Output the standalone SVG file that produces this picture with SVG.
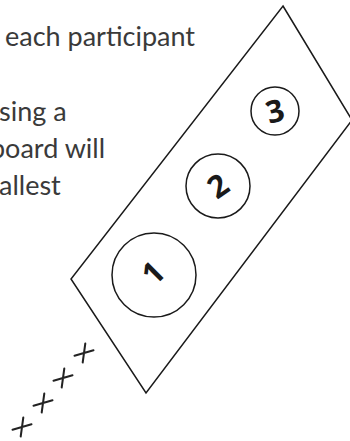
<svg xmlns="http://www.w3.org/2000/svg" width="350" height="441" viewBox="0 0 350 441">
<style>
.txt{font-family:Lato,"Open Sans","Liberation Sans",sans-serif;font-size:27px;fill:#3a3a3a}
.shape{fill:none;stroke:#1a1a1a;stroke-width:1.5}
.dig{font-family:"Open Sans","Liberation Sans",sans-serif;font-weight:700;font-size:31px;fill:#1a1a1a;text-anchor:middle}
.cross{fill:none;stroke:#222;stroke-width:2;stroke-linecap:round}
</style>
<rect width="350" height="441" fill="#fff"/>
<g id="text">
<text class="txt" x="5" y="46">each participant</text>
<text class="txt" x="-1" y="121">sing a</text>
<text class="txt" x="-10" y="158">board will</text>
<text class="txt" x="-1" y="195">allest</text>
</g>
<g id="board"><polygon class="shape" points="283,6 352,120 146,393 71,279"/></g>
<g id="n3"><circle class="shape" cx="275" cy="111" r="24"/><text class="dig" transform="translate(275,111) rotate(-15)" y="11">3</text></g>
<g id="n2"><circle class="shape" cx="218" cy="186" r="32"/><text class="dig" transform="translate(218,186) rotate(-35)" y="11">2</text></g>
<g id="n1"><circle class="shape" cx="154" cy="275" r="42"/><text class="dig" transform="translate(153,273) rotate(-45)" y="11">1</text></g>
<g id="crosses">
<path class="cross" transform="translate(84,353)" d="M-9.5,2.7 L9.5,-2.7 M1.3,-9.5 L-1.3,9.5"/>
<path class="cross" transform="translate(63,378)" d="M-9.5,2.7 L9.5,-2.7 M1.3,-9.5 L-1.3,9.5"/>
<path class="cross" transform="translate(43,403)" d="M-9.5,2.7 L9.5,-2.7 M1.3,-9.5 L-1.3,9.5"/>
<path class="cross" transform="translate(22,427)" d="M-9.5,2.7 L9.5,-2.7 M1.3,-9.5 L-1.3,9.5"/>
</g>
</svg>
